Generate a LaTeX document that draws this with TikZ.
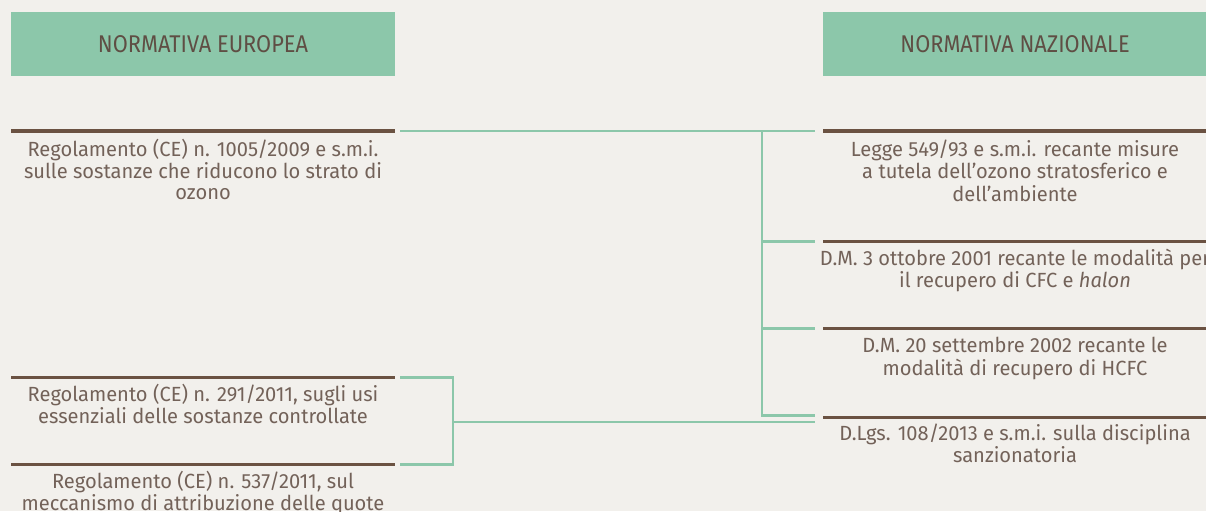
\documentclass[tikz,border=0pt]{standalone}
\usepackage{fontspec}
\setmainfont{Fira Sans}[FakeStretch=0.98]
\newfontfamily\hdrfont{Fira Sans}[FakeStretch=0.9]
\usetikzlibrary{calc}
\definecolor{bg}{HTML}{F2F0EC}
\definecolor{hdr}{HTML}{8CC7AA}
\definecolor{rulec}{HTML}{6B5242}
\definecolor{txt}{HTML}{736259}
\definecolor{htxt}{HTML}{5F4E44}
\definecolor{connc}{HTML}{8CC7AA}
\newcommand\doclines[1]{\begin{tabular}[t]{@{}c@{}}#1\end{tabular}}
\begin{document}
\begin{tikzpicture}[x=1pt,y=-1pt,
  header/.style={fill=hdr, minimum width=384pt, minimum height=64pt, inner sep=0pt, text=htxt, font=\hdrfont\fontsize{24.2}{26}\selectfont},
  rulebar/.style={fill=rulec, minimum width=384pt, minimum height=3.4pt, inner sep=0pt},
  doc/.style={anchor=base, inner sep=0pt, text=txt, font=\fontsize{20.5}{21}\selectfont},
  conn/.style={draw=connc, line width=2.6pt}]
\useasboundingbox (0,0) rectangle (1206,511);
\fill[bg] (0,0) rectangle (1206,511);
\clip (0,0) rectangle (1206,511);
% headers
\node[header] (he) at (203,44) {NORMATIVA EUROPEA};
\node[header] (hn) at (1015,44) {NORMATIVA NAZIONALE};
% rules
\node[rulebar] (L1) at (203,131) {};
\node[rulebar] (L2) at (203,377.3) {};
\node[rulebar] (L3) at (203,464.4) {};
\node[rulebar] (R1) at (1015,131) {};
\node[rulebar] (R2) at (1015,241.5) {};
\node[rulebar] (R3) at (1015,328.5) {};
\node[rulebar] (R4) at (1015,417.2) {};
% texts (anchor = baseline of the first line)
\node[doc] (tl1) at ($(L1.center)+(0,25.7)$) {\doclines{Regolamento (CE) n. 1005/2009 e s.m.i.\\sulle sostanze che riducono lo strato di\\ozono}};
\node[doc] (tl2) at ($(L2.center)+(0,24.4)$) {\doclines{Regolamento (CE) n. 291/2011, sugli usi\\essenziali delle sostanze controllate}};
\node[doc] (tl3) at ($(L3.center)+(0,23.9)$) {\doclines{Regolamento (CE) n. 537/2011, sul\\meccanismo di attribuzione delle quote}};
\node[doc] (tr1) at ($(R1.center)+(0,25.7)$) {\doclines{Legge 549/93 e s.m.i. recante misure\\a tutela dell’ozono stratosferico e\\dell’ambiente}};
\node[doc] (tr2) at ($(R2.center)+(0,24.2)$) {\doclines{D.M. 3 ottobre 2001 recante le modalità per\\il recupero di CFC e \textit{halon}}};
\node[doc] (tr3) at ($(R3.center)+(0,24.2)$) {\doclines{D.M. 20 settembre 2002 recante le\\modalità di recupero di HCFC}};
\node[doc] (tr4) at ($(R4.center)+(0,23.5)$) {\doclines{D.Lgs. 108/2013 e s.m.i. sulla disciplina\\sanzionatoria}};
% connectors
\coordinate (sp) at (762,131.3);
\coordinate (br) at (453,421.8);
\draw[conn] ([xshift=5pt]L1.east) -- ([xshift=-8pt]R1.west);
\draw[conn] (sp) |- ([xshift=-8pt,yshift=2pt]R4.west);
\draw[conn] (sp |- R2.west) -- ([xshift=-8pt]R2.west);
\draw[conn] (sp |- R3.west) -- ([xshift=-8pt]R3.west);
\draw[conn] ([xshift=5pt]L2.east) -| (br) |- ([xshift=5pt]L3.east);
\draw[conn] (br) -- ([xshift=-8pt,yshift=-4.6pt]R4.west);
\end{tikzpicture}
\end{document}
